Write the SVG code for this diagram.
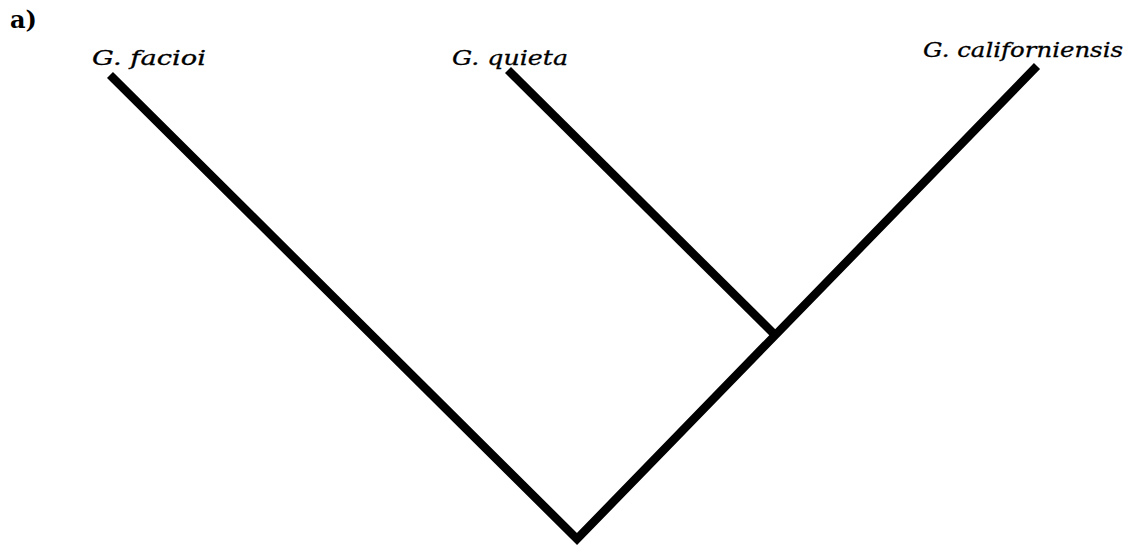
<svg xmlns="http://www.w3.org/2000/svg" width="1131" height="547" viewBox="0 0 1131 547">
<style>
.lbl{font-family:"DejaVu Serif","Liberation Serif",serif;font-style:italic;font-size:21px;fill:#000;stroke:#000;stroke-width:0.3}
.br{stroke:#000;stroke-width:8.5;fill:none;stroke-linecap:butt;stroke-linejoin:miter}
</style>
<rect width="1131" height="547" fill="#fff"/>
<text x="10" y="28" style="font-family:'DejaVu Serif','Liberation Serif',serif;font-weight:bold;font-size:24px">a)</text>
<g id="connectors">
<polyline class="br" points="110,75 577,539 1037,66"/>
<line class="br" x1="508" y1="70" x2="776" y2="336"/>
</g>
<g id="facioi"><text class="lbl" x="92" y="65" textLength="114" lengthAdjust="spacingAndGlyphs">G. facioi</text></g>
<g id="quieta"><text class="lbl" x="452" y="65" textLength="116" lengthAdjust="spacingAndGlyphs">G. quieta</text></g>
<g id="californiensis"><text class="lbl" x="923" y="57" textLength="200" lengthAdjust="spacingAndGlyphs">G. californiensis</text></g>
</svg>
